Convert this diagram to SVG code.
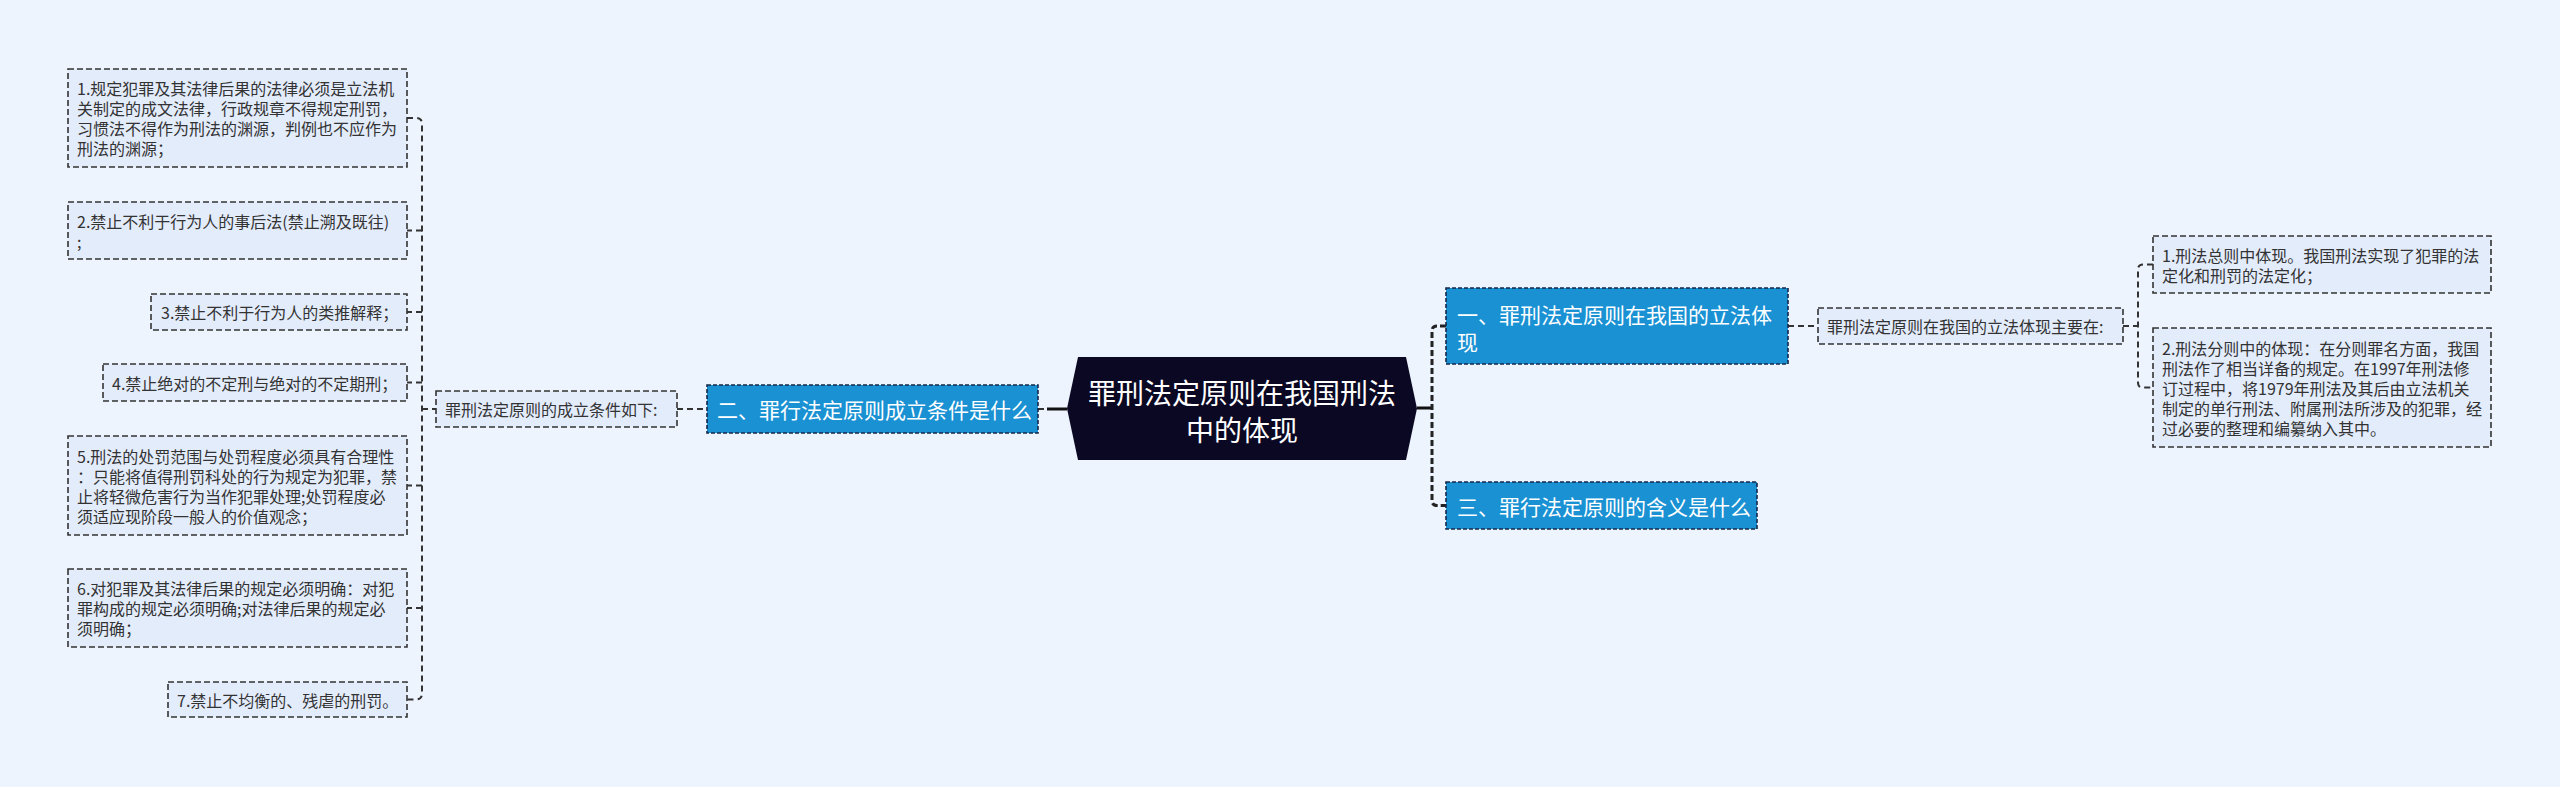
<svg xmlns="http://www.w3.org/2000/svg" width="2560" height="787" viewBox="0 0 2560 787">
<style>
  .bg { fill: #eef4fe; }
  .leaf rect { fill: #e3ecfb; stroke: #333; stroke-width: 1.6; stroke-dasharray: 6 3; }
  .leaf text { font-family: "Noto Sans CJK SC", "Noto Sans", sans-serif; font-size: 16px; fill: #333; dominant-baseline: central; }
  .topic rect { fill: #1a91d3; stroke: #13294a; stroke-width: 1.6; stroke-dasharray: 4 2; }
  .topic text { font-family: "Noto Sans CJK SC", "Noto Sans", sans-serif; font-size: 21px; fill: #ffffff; dominant-baseline: central; }
  .root path { fill: #0b0824; }
  .root text { font-family: "Noto Sans CJK SC", "Noto Sans", sans-serif; font-size: 28px; fill: #ffffff; dominant-baseline: central; text-anchor: middle; }
  .dash { fill: none; stroke: #333; stroke-width: 2; stroke-dasharray: 6 4; }
  .dash3 { fill: none; stroke: #222; stroke-width: 3; stroke-dasharray: 6 3; }
  .solid { fill: none; stroke: #111; stroke-width: 3; }
</style>
<rect class="bg" x="0" y="0" width="2560" height="787"/>

<g id="connectors">
  <path class="dash" d="M 407 118 H 416 Q 422 118 422 124 V 693.5 Q 422 699.5 416 699.5 H 407"/>
  <path class="dash" d="M 422 230.5 H 407"/>
  <path class="dash" d="M 422 312 H 407"/>
  <path class="dash" d="M 422 382.5 H 407"/>
  <path class="dash" d="M 422 485.5 H 407"/>
  <path class="dash" d="M 422 608 H 407"/>
  <path class="dash" d="M 422 409 H 436"/>
  <path class="dash" d="M 677 409 H 707"/>
  <path class="dash" d="M 1038 409 H 1047"/>
  <path class="solid" d="M 1047 409 H 1067"/>
  <path class="solid" d="M 1417 408 H 1432"/>
  <path class="dash3" d="M 1446 326 H 1437 Q 1432 326 1432 331 V 500.5 Q 1432 505.5 1437 505.5 H 1446"/>
  <path class="dash" d="M 1788 326 H 1818"/>
  <path class="dash" d="M 2123 326 H 2138"/>
  <path class="dash" d="M 2153 264.5 H 2143 Q 2138 264.5 2138 269.5 V 382.5 Q 2138 387.5 2143 387.5 H 2153"/>
</g>

<g id="root" class="root">
  <path d="M 1067 408.5 L 1078 357 H 1406 L 1417 408.5 L 1406 460 H 1078 Z"/>
  <text x="1242" y="392"><tspan x="1242" y="392">罪刑法定原则在我国刑法</tspan><tspan x="1242" y="429">中的体现</tspan></text>
</g>

<g id="topic2" class="topic">
  <rect x="707" y="385" width="331" height="48"/>
  <text x="717" y="409">二、罪行法定原则成立条件是什么</text>
</g>

<g id="topic1" class="topic">
  <rect x="1446" y="288" width="342" height="76"/>
  <text x="1457" y="314"><tspan x="1457" y="314">一、罪刑法定原则在我国的立法体</tspan><tspan x="1457" y="341">现</tspan></text>
</g>

<g id="topic3" class="topic">
  <rect x="1446" y="482" width="311" height="47"/>
  <text x="1457" y="505.5">三、罪行法定原则的含义是什么</text>
</g>

<g id="label-left" class="leaf">
  <rect x="436" y="391" width="241" height="36"/>
  <text x="445" y="409">罪刑法定原则的成立条件如下:</text>
</g>

<g id="label-right" class="leaf">
  <rect x="1818" y="308" width="305" height="36"/>
  <text x="1827" y="326">罪刑法定原则在我国的立法体现主要在:</text>
</g>

<g id="left1" class="leaf">
  <rect x="68" y="69" width="339" height="98"/>
  <text x="77" y="88"><tspan x="77" y="88">1.规定犯罪及其法律后果的法律必须是立法机</tspan><tspan x="77" y="108">关制定的成文法律，行政规章不得规定刑罚，</tspan><tspan x="77" y="128">习惯法不得作为刑法的渊源，判例也不应作为</tspan><tspan x="77" y="148">刑法的渊源；</tspan></text>
</g>

<g id="left2" class="leaf">
  <rect x="68" y="202" width="339" height="57"/>
  <text x="77" y="221"><tspan x="77" y="221">2.禁止不利于行为人的事后法(禁止溯及既往)</tspan><tspan x="77" y="241">;</tspan></text>
</g>

<g id="left3" class="leaf">
  <rect x="151" y="294" width="256" height="36"/>
  <text x="161" y="312">3.禁止不利于行为人的类推解释；</text>
</g>

<g id="left4" class="leaf">
  <rect x="103" y="364" width="304" height="37"/>
  <text x="112" y="382.5">4.禁止绝对的不定刑与绝对的不定期刑；</text>
</g>

<g id="left5" class="leaf">
  <rect x="68" y="436" width="339" height="99"/>
  <text x="77" y="455.5"><tspan x="77" y="455.5">5.刑法的处罚范围与处罚程度必须具有合理性</tspan><tspan x="77" y="475.5">：只能将值得刑罚科处的行为规定为犯罪，禁</tspan><tspan x="77" y="495.5">止将轻微危害行为当作犯罪处理;处罚程度必</tspan><tspan x="77" y="515.5">须适应现阶段一般人的价值观念；</tspan></text>
</g>

<g id="left6" class="leaf">
  <rect x="68" y="569" width="339" height="78"/>
  <text x="77" y="588"><tspan x="77" y="588">6.对犯罪及其法律后果的规定必须明确：对犯</tspan><tspan x="77" y="608">罪构成的规定必须明确;对法律后果的规定必</tspan><tspan x="77" y="628">须明确；</tspan></text>
</g>

<g id="left7" class="leaf">
  <rect x="168" y="682" width="239" height="35"/>
  <text x="177" y="699.5">7.禁止不均衡的、残虐的刑罚。</text>
</g>

<g id="right1" class="leaf">
  <rect x="2153" y="236" width="338" height="57"/>
  <text x="2162" y="255"><tspan x="2162" y="255">1.刑法总则中体现。我国刑法实现了犯罪的法</tspan><tspan x="2162" y="275">定化和刑罚的法定化；</tspan></text>
</g>

<g id="right2" class="leaf">
  <rect x="2153" y="328" width="338" height="119"/>
  <text x="2162" y="347.5"><tspan x="2162" y="347.5">2.刑法分则中的体现：在分则罪名方面，我国</tspan><tspan x="2162" y="367.5">刑法作了相当详备的规定。在1997年刑法修</tspan><tspan x="2162" y="387.5">订过程中，将1979年刑法及其后由立法机关</tspan><tspan x="2162" y="407.5">制定的单行刑法、附属刑法所涉及的犯罪，经</tspan><tspan x="2162" y="427.5">过必要的整理和编纂纳入其中。</tspan></text>
</g>
</svg>
